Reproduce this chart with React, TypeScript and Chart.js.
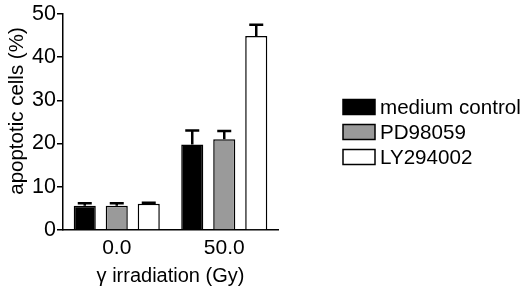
import React, { useEffect, useRef } from "react";
import { Chart, registerables } from "chart.js";

Chart.register(...registerables);

const categories = ["0.0", "50.0"];
const seriesNames = ["medium control", "PD98059", "LY294002"];
const mediumControl = [5.6, 19.8];
const pd98059 = [5.6, 21.0];
const ly294002 = [6.1, 44.9];
const mediumControlErr = [6.2, 23.0];
const pd98059Err = [6.2, 22.9];
const ly294002Err = [6.3, 47.5];
const yTicks = [0, 10, 20, 30, 40, 50];
const xTitle = "γ irradiation (Gy)";
const yTitle = "apoptotic cells (%)";

const FONT = "'Liberation Sans', Arial, Helvetica, sans-serif";

const errorBarPlugin = {
  id: "errorBars",
  afterDatasetsDraw(chart: any) {
    const ctx = chart.ctx;
    const yScale = chart.scales.y;
    chart.data.datasets.forEach((ds: any, i: number) => {
      const meta = chart.getDatasetMeta(i);
      meta.data.forEach((bar: any, j: number) => {
        const top = ds.errorTop[j];
        const yTop = yScale.getPixelForValue(top);
        const yBar = bar.y;
        ctx.save();
        ctx.strokeStyle = "#000";
        ctx.lineWidth = 2.5;
        ctx.beginPath();
        ctx.moveTo(bar.x, yBar);
        ctx.lineTo(bar.x, yTop);
        ctx.moveTo(bar.x - 7, yTop);
        ctx.lineTo(bar.x + 7, yTop);
        ctx.stroke();
        ctx.restore();
      });
    });
  },
};

const yTitlePlugin = {
  id: "yTitle",
  afterDraw(chart: any) {
    const ctx = chart.ctx;
    ctx.save();
    ctx.translate(17, 111);
    ctx.rotate(-Math.PI / 2);
    ctx.fillStyle = "#000";
    ctx.font = `20.5px ${FONT}`;
    ctx.textAlign = "center";
    ctx.textBaseline = "middle";
    ctx.fillText(yTitle, 0, 0);
    ctx.restore();
  },
};

const legendPlugin = {
  id: "customLegend",
  afterDraw(chart: any) {
    const ctx = chart.ctx;
    const x0 = 343;
    const y0 = 107;
    const rowH = 25;
    ctx.save();
    chart.data.datasets.forEach((ds: any, i: number) => {
      const cy = y0 + i * rowH;
      ctx.fillStyle = ds.backgroundColor;
      ctx.fillRect(x0, cy - 7.5, 32, 15);
      ctx.strokeStyle = "#000";
      ctx.lineWidth = 1.5;
      ctx.strokeRect(x0, cy - 7.5, 32, 15);
      ctx.fillStyle = "#000";
      ctx.font = `20.6px ${FONT}`;
      ctx.textBaseline = "middle";
      ctx.textAlign = "left";
      ctx.fillText(ds.label, x0 + 37, cy + 1);
    });
    ctx.restore();
  },
};

export default function App() {
  const ref = useRef<HTMLCanvasElement>(null);
  useEffect(() => {
    if (!ref.current) return;
    const chart = new Chart(ref.current, {
      type: "bar",
      data: {
        labels: categories,
        datasets: [
          { label: seriesNames[0], data: mediumControl, errorTop: mediumControlErr, backgroundColor: "#000000" },
          { label: seriesNames[1], data: pd98059, errorTop: pd98059Err, backgroundColor: "#9a9a9a" },
          { label: seriesNames[2], data: ly294002, errorTop: ly294002Err, backgroundColor: "#ffffff" },
        ].map((d) => ({
          ...d,
          borderColor: "#000",
          borderWidth: 1.5,
          categoryPercentage: 0.893,
          barPercentage: 0.69,
        })) as any,
      },
      options: {
        animation: false,
        responsive: false,
        maintainAspectRatio: false,
        layout: { padding: { left: 0, right: 242, top: 13, bottom: 0 } },
        plugins: { legend: { display: false }, tooltip: { enabled: false } },
        scales: {
          x: {
            grid: { display: false, drawTicks: false },
            border: { color: "#000", width: 1.5 },
            ticks: { color: "#000", font: { family: FONT, size: 21 }, padding: 6 },
            title: {
              display: true,
              text: xTitle,
              color: "#000",
              font: { family: FONT, size: 20 },
              padding: { top: 0, bottom: 2 },
            },
            afterFit: (s: any) => {
              s.height = 60;
            },
          },
          y: {
            min: 0,
            max: 50,
            afterBuildTicks: (s: any) => {
              s.ticks = yTicks.map((v) => ({ value: v }));
            },
            grid: { drawOnChartArea: false, drawTicks: true, tickLength: 6, color: "#000", lineWidth: 1.5 },
            border: { color: "#000", width: 1.5 },
            ticks: { color: "#000", font: { family: FONT, size: 21.5 }, padding: 1 },
            title: { display: false },
            afterFit: (s: any) => {
              s.width = 63;
            },
          },
        },
      },
      plugins: [errorBarPlugin, yTitlePlugin, legendPlugin],
    } as any);
    return () => chart.destroy();
  }, []);
  return (
    <div style={{ position: "absolute", left: 0, top: 0, width: 520, height: 290, background: "#fff" }}>
      <canvas ref={ref} width={520} height={290} style={{ width: 520, height: 290 }} />
    </div>
  );
}
